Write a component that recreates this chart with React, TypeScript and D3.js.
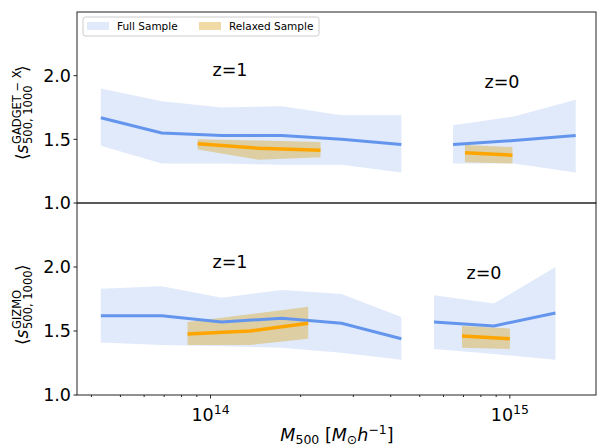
import * as d3 from "d3";

// masses in M_sun/h
const massFullZ1 = [4.3e13, 6.87e13, 1.09e14, 1.73e14, 2.74e14, 4.34e14];
const massRelaxTopZ1 = [9.06e13, 1.45e14, 2.33e14];
const massFullTopZ0 = [6.46e14, 1.03e15, 1.66e15];
const massRelaxTopZ0 = [7.08e14, 1.02e15];
const massRelaxBotZ1 = [8.38e13, 1.35e14, 2.12e14];
const massFullBotZ0 = [5.58e14, 8.85e14, 1.42e15];
const massRelaxBotZ0 = [6.92e14, 1.0e15];

// GADGET-X (top)
const gxFullZ1Mean = [1.67, 1.55, 1.53, 1.53, 1.5, 1.46];
const gxFullZ1Hi = [1.9, 1.8, 1.75, 1.76, 1.69, 1.69];
const gxFullZ1Lo = [1.45, 1.31, 1.31, 1.3, 1.3, 1.24];
const gxRelaxZ1Mean = [1.466, 1.43, 1.414];
const gxRelaxZ1Hi = [1.5, 1.49, 1.48];
const gxRelaxZ1Lo = [1.42, 1.34, 1.36];
const gxFullZ0Mean = [1.46, 1.49, 1.53];
const gxFullZ0Hi = [1.61, 1.68, 1.81];
const gxFullZ0Lo = [1.31, 1.31, 1.24];
const gxRelaxZ0Mean = [1.395, 1.375];
const gxRelaxZ0Hi = [1.455, 1.44];
const gxRelaxZ0Lo = [1.32, 1.31];

// GIZMO (bottom)
const gzFullZ1Mean = [1.62, 1.62, 1.57, 1.6, 1.56, 1.44];
const gzFullZ1Hi = [1.83, 1.85, 1.76, 1.82, 1.79, 1.61];
const gzFullZ1Lo = [1.41, 1.39, 1.38, 1.37, 1.33, 1.275];
const gzRelaxZ1Mean = [1.477, 1.5, 1.56];
const gzRelaxZ1Hi = [1.57, 1.63, 1.69];
const gzRelaxZ1Lo = [1.39, 1.39, 1.44];
const gzFullZ0Mean = [1.57, 1.54, 1.64];
const gzFullZ0Hi = [1.78, 1.715, 2.0];
const gzFullZ0Lo = [1.36, 1.32, 1.275];
const gzRelaxZ0Mean = [1.46, 1.44];
const gzRelaxZ0Hi = [1.54, 1.52];
const gzRelaxZ0Lo = [1.37, 1.36];

const yTicks = [1.0, 1.5, 2.0];
const legendLabels = ["Full Sample", "Relaxed Sample"];

const W = 597;
const H = 447;
const left = 77;
const right = 596;
const font = "DejaVu Sans, sans-serif";
const blue = "#6495ED";
const blueBand = "rgba(100,149,237,0.2)";
const orange = "#FFA500";
const orangeBand = "rgba(218,165,32,0.4)";

const x = d3.scaleLog().domain([3.58e13, 1.94e15]).range([left, right]);

type Row = { m: number; mean: number; hi: number; lo: number };
const rows = (m: number[], mean: number[], hi: number[], lo: number[]): Row[] =>
  m.map((v, i) => ({ m: v, mean: mean[i], hi: hi[i], lo: lo[i] }));

function Panel({ top, bottom, series, showX }: any) {
  const y = d3.scaleLinear().domain([1, 2.5]).range([bottom, top]);
  const area = d3
    .area<Row>()
    .x((d) => x(d.m))
    .y0((d) => y(d.lo))
    .y1((d) => y(d.hi));
  const line = d3
    .line<Row>()
    .x((d) => x(d.m))
    .y((d) => y(d.mean));
  const ticks = x.ticks();
  return (
    <g>
      {series.map((s: any, i: number) => (
        <path key={"a" + i} d={area(s.data) || ""} fill={s.relax ? orangeBand : blueBand} />
      ))}
      {series.map((s: any, i: number) => (
        <path
          key={"l" + i}
          d={line(s.data) || ""}
          fill="none"
          stroke={s.relax ? orange : blue}
          strokeWidth={s.relax ? 3.5 : 3}
        />
      ))}
      <rect x={left} y={top} width={right - left} height={bottom - top} fill="none" stroke="#222" strokeWidth={1} />
      {yTicks.map((t) => (
        <g key={t}>
          <line x1={left - 3.5} x2={left} y1={y(t)} y2={y(t)} stroke="#222" />
          <text x={left - 6} y={y(t)} dy="0.36em" textAnchor="end" fontSize={17.5} fontFamily={font}>
            {t.toFixed(1)}
          </text>
        </g>
      ))}
      {showX &&
        ticks.map((t, i) => {
          const major = Math.abs(Math.log10(t) - Math.round(Math.log10(t))) < 1e-6;
          return (
            <g key={i}>
              <line x1={x(t)} x2={x(t)} y1={bottom} y2={bottom + (major ? 3.5 : 2)} stroke="#222" />
              {major && (
                <text x={x(t)} y={bottom + 26} textAnchor="middle" fontSize={17.5} fontFamily={font}>
                  10
                  <tspan fontSize={12.5} dy={-7}>
                    {Math.round(Math.log10(t))}
                  </tspan>
                </text>
              )}
            </g>
          );
        })}
    </g>
  );
}

function YLabel({ cx, cy, sup, sub, closeAt }: any) {
  return (
    <g transform={`translate(${cx},${cy}) rotate(-90)`} fontFamily={font}>
      <text x={0} y={0} fontSize={17}>⟨</text>
      <text x={6.5} y={0} fontSize={17} fontStyle="italic">s</text>
      <text x={16} y={-7} fontSize={11.5}>{sup}</text>
      <text x={16} y={4} fontSize={11.5}>{sub}</text>
      <text x={closeAt} y={0} fontSize={17}>⟩</text>
    </g>
  );
}

export default function App() {
  const topSeries = [
    { relax: false, data: rows(massFullZ1, gxFullZ1Mean, gxFullZ1Hi, gxFullZ1Lo) },
    { relax: true, data: rows(massRelaxTopZ1, gxRelaxZ1Mean, gxRelaxZ1Hi, gxRelaxZ1Lo) },
    { relax: false, data: rows(massFullTopZ0, gxFullZ0Mean, gxFullZ0Hi, gxFullZ0Lo) },
    { relax: true, data: rows(massRelaxTopZ0, gxRelaxZ0Mean, gxRelaxZ0Hi, gxRelaxZ0Lo) },
  ];
  const botSeries = [
    { relax: false, data: rows(massFullZ1, gzFullZ1Mean, gzFullZ1Hi, gzFullZ1Lo) },
    { relax: true, data: rows(massRelaxBotZ1, gzRelaxZ1Mean, gzRelaxZ1Hi, gzRelaxZ1Lo) },
    { relax: false, data: rows(massFullBotZ0, gzFullZ0Mean, gzFullZ0Hi, gzFullZ0Lo) },
    { relax: true, data: rows(massRelaxBotZ0, gzRelaxZ0Mean, gzRelaxZ0Hi, gzRelaxZ0Lo) },
  ];
  return (
    <svg width={W} height={H} style={{ position: "absolute", left: 0, top: 0, background: "#fff" }}>
      <Panel top={12} bottom={203} series={topSeries} showX={false} />
      <Panel top={203} bottom={395} series={botSeries} showX={true} />

      <g fontFamily={font} fontSize={17.5}>
        <text x={230} y={76} textAnchor="middle">z=1</text>
        <text x={502} y={88} textAnchor="middle">z=0</text>
        <text x={230} y={268} textAnchor="middle">z=1</text>
        <text x={484} y={279} textAnchor="middle">z=0</text>
      </g>

      <g fontFamily={font} fontSize={10.5}>
        <rect x={83} y={17} width={236} height={19} rx={2.5} fill="#fff" fillOpacity={0.8} stroke="#ccc" />
        <rect x={87} y={22} width={22} height={8} fill={blueBand} />
        <text x={117} y={30}>{legendLabels[0]}</text>
        <rect x={199} y={22} width={22} height={8} fill="rgba(218,165,32,0.4)" />
        <text x={229} y={30}>{legendLabels[1]}</text>
      </g>

      <YLabel cx={28} cy={160} sup="GADGET − X" sub="500, 1000" closeAt={88} />
      <YLabel cx={28} cy={345} sup="GIZMO" sub="500, 1000" closeAt={74} />

      <text x={337} y={441} textAnchor="middle" fontFamily={font} fontSize={17.5}>
        <tspan fontStyle="italic">M</tspan>
        <tspan fontSize={12.5} dy={3}>500</tspan>
        <tspan dy={-3}> [</tspan>
        <tspan fontStyle="italic">M</tspan>
        <tspan fontSize={12.5} dy={3}>⊙</tspan>
        <tspan fontStyle="italic" dy={-3}>h</tspan>
        <tspan fontSize={12.5} dy={-7}>−1</tspan>
        <tspan dy={7}>]</tspan>
      </text>
    </svg>
  );
}
